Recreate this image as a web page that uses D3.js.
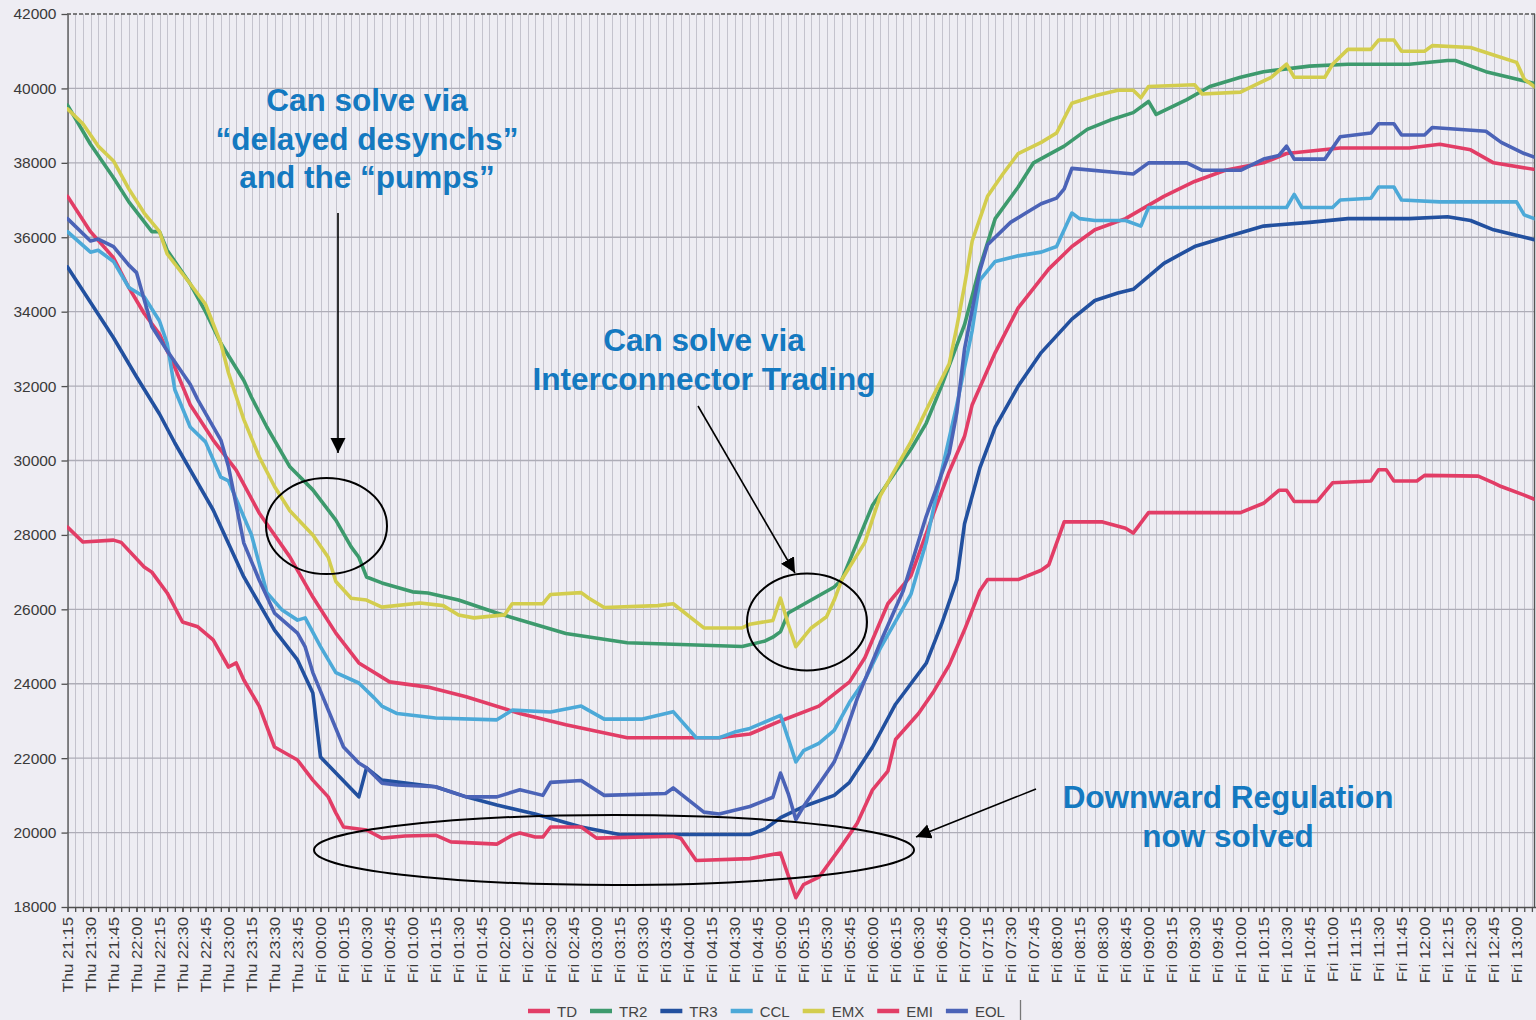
<!DOCTYPE html>
<html>
<head>
<meta charset="utf-8">
<title>Downward regulation</title>
<script src="https://d3js.org/d3.v7.min.js"></script>
<style>
 body { margin: 0; background: #eeedf3; }
 svg { display: block; font-family: "Liberation Sans", Arial, sans-serif; }
 .grid-v line { stroke: #c4c3cd; stroke-width: 1; }
 .grid-h line { stroke: #aeadb7; stroke-width: 1.3; }
 .axis path, .axis line { stroke: #4f4f4f; stroke-width: 1.3; }
 .axis text { fill: #3a3a3a; }
 .series { fill: none; stroke-width: 3.6; stroke-linejoin: round; stroke-linecap: round; }
 .note { fill: #1479c0; font-weight: bold; font-size: 31.5px; text-anchor: middle; }
 .ring { fill: none; stroke: #000; stroke-width: 2; }
 .arrow { stroke: #000; stroke-width: 1.6; }
</style>
</head>
<body>
<svg id="chart" width="1536" height="1020"></svg>
<script>

// each pair = [five-minute step counted from Thu 21:15, MW]
var td = [[0,37100],[3,36150],[6,35450],[8,34650],[10,33950],[12,33400],[14,32500],[16,31500],[19,30550],[22,29740],[25,28590],[29,27410],[32,26330],[35,25360],[38,24560],[42,24050],[47,23910],[52,23650],[59,23200],[65,22900],[73,22550],[85,22550],[89,22650],[93,23000],[98,23400],[102,24050],[104,24700],[107,26150],[110,26900],[113,28600],[115,29700],[117,30650],[118,31500],[121,32900],[124,34100],[128,35150],[131,35750],[134,36200],[138,36500],[143,37100],[147,37500],[151,37800],[156,38000],[159,38250],[166,38400],[175,38400],[179,38500],[183,38350],[186,38000],[192,37800]];

var tr2 = [[0,39550],[3,38500],[6,37600],[8,36950],[11,36150],[12,36150],[13,35650],[16,34750],[18,34000],[20,33150],[23,32150],[24,31700],[26,30900],[29,29830],[32,29210],[35,28400],[37,27680],[38,27400],[39,26870],[41,26710],[45,26470],[47,26440],[51,26250],[56,25900],[65,25350],[73,25100],[88,25000],[91,25150],[92,25250],[93,25400],[94,25900],[100,26600],[101,26800],[105,28800],[110,30300],[112,31000],[114,32000],[117,33650],[119,35200],[121,36500],[124,37350],[126,38000],[130,38450],[133,38900],[136,39150],[139,39350],[141,39650],[142,39300],[146,39700],[149,40050],[153,40300],[156,40450],[162,40600],[167,40650],[175,40650],[180,40750],[181,40750],[185,40450],[188,40300],[192,40100]];

var tr3 = [[0,35200],[6,33300],[9,32250],[12,31250],[14,30470],[19,28670],[23,26870],[27,25440],[30,24640],[32,23750],[33,22030],[38,20960],[39,21740],[41,21410],[48,21230],[52,20960],[56,20740],[61,20500],[67,20150],[72,19950],[89,19950],[91,20100],[93,20400],[96,20700],[100,21000],[102,21350],[105,22300],[108,23450],[112,24550],[114,25600],[116,26800],[117,28300],[119,29800],[121,30900],[124,32000],[127,32900],[131,33800],[134,34300],[137,34500],[139,34600],[143,35300],[147,35750],[151,36000],[156,36300],[162,36400],[167,36500],[175,36500],[180,36550],[183,36450],[186,36200],[192,35900]];

var ccl = [[0,36150],[3,35600],[4,35650],[6,35350],[8,34650],[10,34400],[12,33750],[13,33150],[14,31900],[16,30900],[18,30500],[20,29550],[21,29450],[24,28000],[26,26450],[28,25980],[30,25710],[31,25770],[33,25000],[35,24300],[38,24020],[40,23620],[41,23400],[43,23200],[48,23080],[56,23030],[58,23290],[63,23240],[67,23400],[70,23050],[75,23050],[79,23250],[82,22550],[85,22550],[87,22700],[89,22800],[93,23150],[95,21900],[96,22200],[98,22400],[100,22750],[102,23500],[104,24100],[106,24950],[110,26400],[112,27800],[114,29700],[116,31500],[118,33500],[119,34850],[121,35350],[124,35500],[127,35600],[129,35750],[131,36650],[132,36500],[134,36450],[138,36450],[140,36300],[141,36800],[159,36800],[160,37150],[161,36800],[165,36800],[166,37000],[170,37050],[171,37350],[173,37350],[174,37000],[179,36950],[189,36950],[190,36600],[192,36450]];

var emx = [[0,39450],[2,39050],[4,38450],[6,38050],[8,37300],[10,36650],[12,36150],[13,35550],[16,34750],[18,34200],[20,33150],[21,32350],[23,31100],[25,30100],[27,29300],[29,28650],[32,28000],[34,27400],[35,26750],[37,26300],[39,26250],[41,26060],[46,26170],[49,26100],[51,25850],[53,25770],[57,25850],[58,26150],[62,26150],[63,26400],[67,26450],[68,26300],[70,26050],[77,26100],[79,26150],[83,25500],[88,25500],[89,25600],[92,25700],[93,26300],[94,25600],[95,25000],[97,25500],[99,25800],[100,26250],[101,26800],[104,27800],[106,29050],[110,30500],[112,31350],[115,32600],[116,33600],[117,34700],[118,35900],[120,37100],[122,37700],[124,38250],[127,38550],[129,38800],[131,39600],[134,39800],[137,39950],[139,39950],[140,39750],[141,40050],[147,40100],[148,39850],[153,39900],[155,40100],[157,40300],[159,40650],[160,40300],[164,40300],[165,40650],[167,41050],[170,41050],[171,41300],[173,41300],[174,41000],[177,41000],[178,41150],[183,41100],[186,40900],[189,40700],[190,40250],[192,39950]];

var emi = [[0,28210],[2,27810],[6,27860],[7,27800],[10,27140],[11,27000],[13,26440],[15,25660],[17,25530],[19,25180],[21,24450],[22,24560],[23,24100],[25,23400],[27,22300],[30,21950],[32,21410],[34,20960],[35,20530],[36,20150],[39,20070],[41,19850],[44,19910],[48,19930],[50,19750],[56,19690],[58,19930],[59,19990],[61,19880],[62,19880],[63,20150],[67,20150],[69,19850],[79,19900],[80,19850],[82,19250],[89,19300],[93,19450],[95,18250],[96,18600],[98,18800],[101,19650],[103,20250],[105,21150],[107,21650],[108,22500],[111,23200],[113,23800],[115,24500],[117,25450],[119,26500],[120,26800],[124,26800],[127,27050],[128,27200],[130,28350],[135,28350],[138,28180],[139,28050],[141,28600],[153,28600],[156,28850],[158,29200],[159,29200],[160,28900],[163,28900],[165,29400],[170,29450],[171,29750],[172,29750],[173,29450],[176,29450],[177,29600],[184,29580],[186,29400],[187,29300],[190,29070],[192,28900]];

var eol = [[0,36500],[3,35900],[4,35950],[6,35750],[8,35250],[9,35050],[11,33600],[13,32950],[16,32050],[17,31630],[20,30550],[21,29830],[23,27780],[25,26790],[27,25900],[30,25360],[31,24990],[32,24300],[36,22300],[38,21870],[39,21740],[41,21330],[43,21280],[48,21230],[52,20960],[56,20960],[59,21150],[62,21000],[63,21350],[67,21400],[70,21000],[78,21050],[79,21200],[83,20550],[85,20500],[89,20700],[92,20950],[93,21600],[94,21050],[95,20350],[96,20700],[100,21900],[101,22400],[103,23600],[106,25100],[109,26500],[112,28500],[115,30200],[116,31300],[117,33000],[119,35100],[120,35800],[123,36400],[125,36650],[127,36900],[129,37050],[130,37300],[131,37850],[139,37700],[141,38000],[146,38000],[148,37800],[153,37800],[156,38100],[158,38200],[159,38450],[160,38100],[164,38100],[166,38700],[170,38800],[171,39050],[173,39050],[174,38750],[177,38750],[178,38950],[185,38850],[187,38550],[190,38250],[192,38100]];

var seriesNames = ["TD", "TR2", "TR3", "CCL", "EMX", "EMI", "EOL"];
var seriesData = [td, tr2, tr3, ccl, emx, emi, eol];
var seriesColors = ["#e23d66", "#3d9a6d", "#22509f", "#4ca9d8", "#d3cd4e", "#e23d66", "#4b63b7"];

var yTicks = [18000, 20000, 22000, 24000, 26000, 28000, 30000, 32000, 34000, 36000, 38000, 40000, 42000];
var lastStep = 192,
    lastLabelStep = 189;   // Fri 13:00

var svg = d3.select("#chart");

var t0 = new Date(2000, 0, 6, 21, 15);   // a Thursday
function stepTime(s) { return new Date(t0.getTime() + s * 5 * 60000); }

var x = d3.scaleTime().domain([t0, stepTime(lastStep)]).range([67.5, 67.5 + lastStep * 7.667]),
    y = d3.scaleLinear().domain([18000, 42000]).range([907, 14]),
    right = 1534.5;

svg.append("defs").append("clipPath").attr("id", "plot")
   .append("rect").attr("x", 67).attr("y", 0).attr("width", right - 67).attr("height", 1020);

var marker = svg.select("defs").append("marker")
    .attr("id", "head")
    .attr("markerUnits", "userSpaceOnUse")
    .attr("markerWidth", 16).attr("markerHeight", 16)
    .attr("refX", 15).attr("refY", 7.5)
    .attr("orient", "auto");
marker.append("path").attr("d", "M0,0 L15,7.5 L0,15 Z").attr("fill", "#000");

// grid
var minorTimes = x.ticks(d3.timeMinute.every(5)).filter(function(d) { return x(d) <= right; });
var labelTimes = x.ticks(d3.timeMinute.every(15)).filter(function(d) { return d <= stepTime(lastLabelStep); });

svg.append("g").attr("class", "grid-v")
   .selectAll("line")
   .data(minorTimes)
   .enter().append("line")
   .attr("x1", function(d) { return Math.round(x(d)) + 0.5; })
   .attr("x2", function(d) { return Math.round(x(d)) + 0.5; })
   .attr("y1", 14).attr("y2", 907);

svg.append("g").attr("class", "grid-h")
   .selectAll("line")
   .data(yTicks.slice(1, -1))
   .enter().append("line")
   .attr("x1", 67).attr("x2", right)
   .attr("y1", function(d) { return y(d); })
   .attr("y2", function(d) { return y(d); });

// frame
svg.append("line").attr("x1", 67).attr("x2", 1536).attr("y1", 14).attr("y2", 14)
   .attr("stroke", "#555").attr("stroke-width", 1.4).attr("stroke-dasharray", "4,2");
svg.append("line").attr("x1", right).attr("x2", right).attr("y1", 14).attr("y2", 907)
   .attr("stroke", "#555").attr("stroke-width", 1.4);

// axes
svg.append("g").attr("class", "axis")
   .attr("transform", "translate(0,907)")
   .call(d3.axisBottom(x).tickValues(minorTimes).tickSize(5).tickSizeOuter(0).tickFormat(""));

var xAxis = svg.append("g").attr("class", "axis")
   .attr("transform", "translate(0,907)")
   .call(d3.axisBottom(x).tickValues(labelTimes).tickSize(5).tickSizeOuter(0)
         .tickFormat(d3.timeFormat("%a %H:%M")));
xAxis.select(".domain").remove();
xAxis.selectAll("text")
     .attr("x", 0).attr("y", 0).attr("dy", "0.35em")
     .attr("text-anchor", "end")
     .attr("font-size", "14px")
     .attr("transform", "translate(0,10) scale(1,1.2) rotate(-90)");

svg.append("g").attr("class", "axis")
   .attr("transform", "translate(67.5,0)")
   .call(d3.axisLeft(y).tickValues(yTicks).tickSize(6).tickPadding(5).tickSizeOuter(0).tickFormat(d3.format("d")))
   .selectAll("text").attr("font-size", "15.5px");

// series
var line = d3.line()
    .x(function(d) { return x(stepTime(d[0])); })
    .y(function(d) { return y(d[1]); });

svg.append("g").attr("clip-path", "url(#plot)")
   .selectAll("path")
   .data(seriesData)
   .enter().append("path")
   .attr("class", "series")
   .attr("stroke", function(d, i) { return seriesColors[i]; })
   .attr("d", line);

// annotations
var notes = [
    {cx: 367, y: 111, lines: ["Can solve via", "\u201cdelayed desynchs\u201d", "and the \u201cpumps\u201d"]},
    {cx: 704, y: 351, lines: ["Can solve via", "Interconnector Trading"]},
    {cx: 1228, y: 808, lines: ["Downward Regulation", "now solved"]}
];
notes.forEach(function(n) {
    var t = svg.append("text").attr("class", "note").attr("y", n.y);
    n.lines.forEach(function(s, i) {
        t.append("tspan").attr("x", n.cx).attr("dy", i ? 38.5 : 0).text(s);
    });
});

var rings = [[326.5, 526, 60.5, 48], [807, 622, 60, 48.5], [614, 850, 300, 35]];
svg.selectAll(".ring").data(rings).enter().append("ellipse")
   .attr("class", "ring")
   .attr("cx", function(d) { return d[0]; }).attr("cy", function(d) { return d[1]; })
   .attr("rx", function(d) { return d[2]; }).attr("ry", function(d) { return d[3]; });

var arrows = [[338, 213, 338, 453], [698, 406, 795, 573], [1036, 789, 916, 837]];
svg.selectAll(".arrow").data(arrows).enter().append("line")
   .attr("class", "arrow")
   .attr("x1", function(d) { return d[0]; }).attr("y1", function(d) { return d[1]; })
   .attr("x2", function(d) { return d[2]; }).attr("y2", function(d) { return d[3]; })
   .attr("marker-end", "url(#head)");

// legend along the bottom edge
var legend = svg.append("g"),
    lx = 528;
seriesNames.forEach(function(name, i) {
    legend.append("line")
          .attr("x1", lx).attr("x2", lx + 22).attr("y1", 1011).attr("y2", 1011)
          .attr("stroke", seriesColors[i]).attr("stroke-width", 4.5);
    var t = legend.append("text")
          .attr("x", lx + 29).attr("y", 1017)
          .attr("font-size", "15px").attr("fill", "#444")
          .text(name);
    lx += 29 + t.node().getComputedTextLength() + 13;
});
legend.append("line").attr("x1", 1020.5).attr("x2", 1020.5).attr("y1", 1000).attr("y2", 1020)
      .attr("stroke", "#777").attr("stroke-width", 1.3);

</script>
</body>
</html>
